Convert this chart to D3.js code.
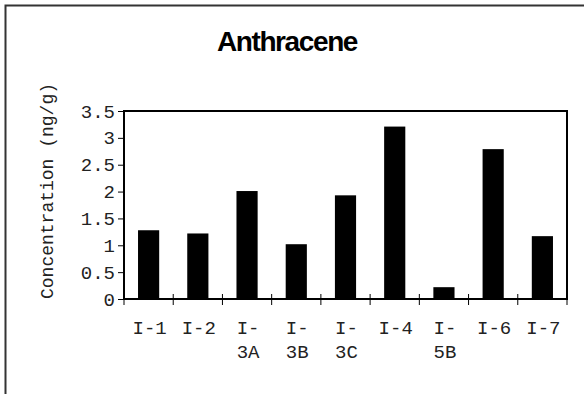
<!DOCTYPE html>
<html>
<head>
<meta charset="utf-8">
<script src="https://cdn.jsdelivr.net/npm/d3@7"></script>
<style>
  body { margin: 0; background: #fff; }
  svg { display: block; }
</style>
</head>
<body>
<svg id="chart" width="584" height="394"></svg>
<script>
const categories = ["I-1", "I-2", "I-3A", "I-3B", "I-3C", "I-4", "I-5B", "I-6", "I-7"];
const values = [1.28, 1.22, 2.01, 1.02, 1.93, 3.21, 0.22, 2.79, 1.17];
const yTicks = [0, 0.5, 1, 1.5, 2, 2.5, 3, 3.5];
const title = "Anthracene";
const yLabel = "Concentration (ng/g)";

const svg = d3.select("#chart");
const W = 584, H = 394;
const m = { left: 124, top: 111, right: 567, bottom: 299 };
const mono = "'Liberation Mono', 'Courier New', monospace";

svg.append("rect").attr("width", W).attr("height", H).attr("fill", "#fff");

// outer frame (only left & top visible)
svg.append("path")
  .attr("d", `M5.5,${H} V5.5 H${W}`)
  .attr("fill", "none").attr("stroke", "#333").attr("stroke-width", 2);

const x = d3.scaleBand().domain(categories).range([m.left, m.right]).paddingInner(0.57).paddingOuter(0.285);
const xb = d3.scaleBand().domain(categories).range([m.left, m.right]);
const y = d3.scaleLinear().domain([0, 3.5]).range([m.bottom, m.top]);

// bars
svg.append("g").selectAll("rect").data(values).join("rect")
  .attr("x", (d, i) => x(categories[i]))
  .attr("width", x.bandwidth())
  .attr("y", d => y(d))
  .attr("height", d => y(0) - y(d))
  .attr("fill", "#000");

// plot frame
svg.append("rect")
  .attr("x", m.left).attr("y", m.top)
  .attr("width", m.right - m.left).attr("height", m.bottom - m.top)
  .attr("fill", "none").attr("stroke", "#000").attr("stroke-width", 2);

// y axis
const yAxis = svg.append("g").attr("transform", `translate(${m.left},0)`)
  .call(d3.axisLeft(y).tickValues(yTicks).tickFormat(d => String(d)).tickSize(6).tickPadding(3));
yAxis.select(".domain").remove();
yAxis.selectAll(".tick line").attr("stroke", "#000").attr("stroke-width", 1);
yAxis.selectAll("text").attr("font-family", mono).attr("font-size", 19).attr("fill", "#222");

// x axis ticks at category boundaries
const boundaries = categories.map(c => xb(c)).concat([m.right]);
svg.append("g").selectAll("line").data(boundaries).join("line")
  .attr("x1", d => d).attr("x2", d => d)
  .attr("y1", m.bottom - 5).attr("y2", m.bottom + 6)
  .attr("stroke", "#000").attr("stroke-width", 1);

// x labels (wrap like the original)
const xl = svg.append("g");
categories.forEach(c => {
  const cx = xb(c) + xb.bandwidth() / 2 + 1;
  const parts = c.length > 3 ? [c.slice(0, 2), c.slice(2)] : [c];
  const t = xl.append("text")
    .attr("x", cx).attr("y", 334)
    .attr("text-anchor", "middle")
    .attr("font-family", mono).attr("font-size", 19).attr("fill", "#222");
  parts.forEach((p, i) => {
    t.append("tspan").attr("x", cx).attr("dy", i === 0 ? 0 : 24).text(p);
  });
});

// title
svg.append("text")
  .attr("x", 287).attr("y", 51)
  .attr("text-anchor", "middle")
  .attr("font-family", "'Liberation Sans', Arial, sans-serif")
  .attr("font-weight", "bold").attr("font-size", 28)
  .attr("letter-spacing", -1.4)
  .text(title);

// y label
svg.append("text")
  .attr("transform", `translate(53,${(m.top + m.bottom) / 2 - 14}) rotate(-90)`)
  .attr("text-anchor", "middle")
  .attr("font-family", mono).attr("font-size", 18).attr("fill", "#222")
  .text(yLabel);
</script>
</body>
</html>
